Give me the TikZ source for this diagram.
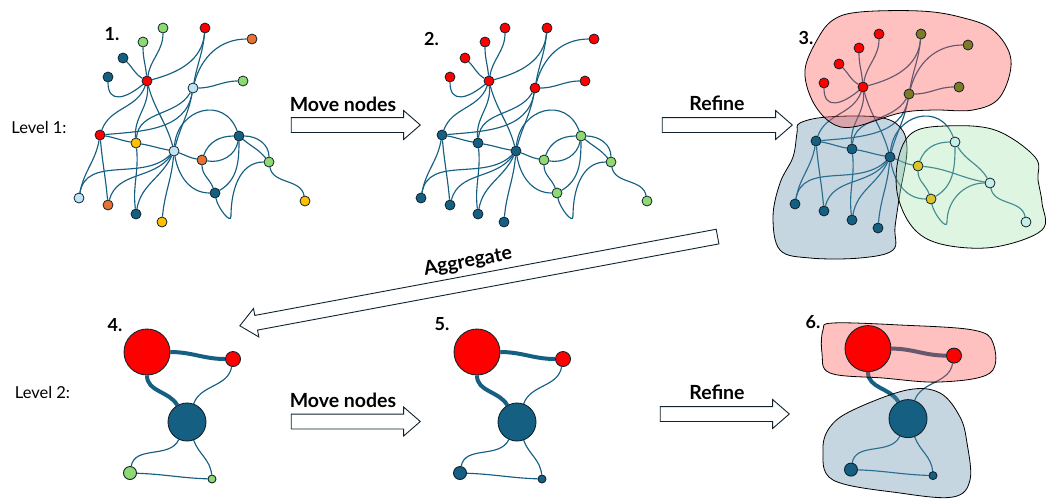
\documentclass[tikz,border=0pt]{standalone}
\usepackage{fontspec}
\setmainfont{Lato}
\usetikzlibrary{shapes.arrows}

\definecolor{netblue}{HTML}{156082}
\definecolor{netred}{HTML}{FF0000}
\definecolor{netgreen}{HTML}{8ED973}
\definecolor{netorange}{HTML}{E97132}
\definecolor{netlight}{HTML}{C0E4F5}
\definecolor{netyellow}{HTML}{FFC000}
\definecolor{netolive}{HTML}{7F7A24}
\definecolor{netgold}{HTML}{DCC42A}
\definecolor{netcyan}{HTML}{C6EFE6}
\definecolor{netrim}{HTML}{10222E}
\definecolor{blobred}{RGB}{255,75,75}
\definecolor{blobblue}{RGB}{89,138,169}
\definecolor{blobgreen}{RGB}{161,226,172}

\pgfdeclarelayer{edges}
\pgfdeclarelayer{blobs}
\pgfsetlayers{edges,blobs,main}

\tikzset{
  vert/.style={circle, draw=netrim, line width=0.8pt, minimum size=10pt, inner sep=0pt},
  hub/.style={circle, draw=netrim, line width=0.9pt, inner sep=0pt},
  link/.style={draw=netblue, line width=1.15pt},
  heavy/.style={draw=netblue, line width=4pt},
  blob/.style={draw=black, line width=0.8pt, fill opacity=0.35},
  blockarrow/.style={single arrow, draw=netrim, fill=white, line width=0.9pt,
    inner sep=0pt, inner ysep=7pt, single arrow head extend=7pt,
    single arrow tip angle=82},
  steplbl/.style={font=\bfseries\fontsize{18}{18}\selectfont},
  actlbl/.style={font=\bfseries\fontsize{19.5}{19.5}\selectfont},
  levellbl/.style={font=\fontsize{16.5}{16.5}\selectfont},
}

% vertex positions of the fine network, shifted by (#2,#3)
\newcommand{\netpos}[3]{%
  \foreach \n/\x/\y in {A/163/28, B/205/28, C/252/39, D/143/42, E/123/58,
      F/108/77, H/147/81, G/243/81, L/193/88, M/100/135, Y/136/143,
      K/174/151, O/202/160, N/239/136, P/269/162, Q/215/193, R/305/201,
      S/79/198, T/108/205, U/136/214, V/162/222}
    \coordinate (#1\n) at ({\x+#2},{-\y-#3});
}

% links shared by all fine networks
\newcommand{\netlinks}[1]{%
  \foreach \a/\b/\o/\i/\l in {A/H/-90/80/1, D/H/-90/95/1, E/H/-45/150/1,
      F/H/-90/-140/1.6, B/H/-95/15/1, B/L/-95/80/1, C/L/180/75/1,
      L/G/0/180/1, H/M/-110/70/1, M/L/5/-100/1, H/Y/-85/95/1,
      L/Y/-120/85/1, H/K/-75/105/1, L/K/-100/75/1, M/Y/-10/170/1,
      Y/K/-10/170/1, M/S/-100/80/1, M/T/-85/95/1, Y/U/-84/97/1,
      K/S/-135/80/1, K/T/-125/75/1, K/U/-115/80/1, K/V/-95/85/1,
      K/O/-20/170/1, K/N/85/110/1.5, O/N/70/180/1, O/Q/-90/110/1,
      N/Q/-90/30/1, K/Q/-80/180/1, P/R/-80/100/1}
    \draw[link] (#1\a) to[out=\o,in=\i,looseness=\l] (#1\b);
  \draw[link] (#1Q) to[out=-80,in=-90] ++(16,-23) to[out=90,in=180] (#1P);
}

% coarse network positions, shifted by (#2,#3)
\newcommand{\coarsepos}[3]{%
  \foreach \n/\x/\y in {R1/147/352, R2/233/359, B1/187/422, B2/130/473, B3/212/479}
    \coordinate (#1\n) at ({\x+#2},{-\y-#3});
}

\newcommand{\coarselinks}[1]{%
  \draw[heavy] (#1R1) to[out=0,in=180] (#1R2);
  \draw[heavy] (#1R1) to[out=-90,in=120] (#1B1);
  \draw[link] (#1R2) to[out=-100,in=70] (#1B1);
  \draw[link] (#1B1) to[out=-115,in=80] (#1B2);
  \draw[link] (#1B1) to[out=-70,in=95] (#1B3);
  \draw[link] (#1B2) to[out=-2,in=178] (#1B3);
}

\begin{document}
\begin{tikzpicture}[x=1pt,y=1pt]
\useasboundingbox (0,0) rectangle (1046,-499);

%% Level 1
\netpos{g1}{0}{0}
\netpos{g2}{342}{0}
\netpos{g3}{716}{6}
\coordinate (g3P) at (990,-183);
\coordinate (g3R) at (1026,-222);

\foreach \n/\c in {A/netgreen, B/netred, C/netorange, D/netgreen, E/netblue,
    F/netblue, H/netred, G/netgreen, L/netlight, M/netred, Y/netyellow,
    K/netlight, O/netorange, N/netblue, P/netgreen, Q/netblue, R/netyellow,
    S/netlight, T/netorange, U/netblue, V/netyellow}
  \node[vert, fill=\c] (g1\n) at (g1\n) {};

\foreach \n/\c in {A/netred, B/netred, C/netred, D/netred, E/netred,
    F/netred, H/netred, G/netred, L/netred, M/netblue, Y/netblue,
    K/netblue, O/netgreen, N/netgreen, P/netgreen, Q/netgreen, R/netgreen,
    S/netblue, T/netblue, U/netblue, V/netblue}
  \node[vert, fill=\c] (g2\n) at (g2\n) {};

\foreach \n/\c in {A/netred, B/netolive, C/netolive, D/netred, E/netred,
    F/netred, H/netred, G/netolive, L/netolive, M/netblue, Y/netblue,
    K/netblue, O/netgold, N/netcyan, P/netcyan, Q/netgold, R/netcyan,
    S/netblue, T/netblue, U/netblue, V/netblue}
  \node[vert, fill=\c] (g3\n) at (g3\n) {};

\begin{pgfonlayer}{edges}
\netlinks{g1}
\netlinks{g2}
\netlinks{g3}
\foreach \g in {g1,g2} {
  \draw[link] (\g O) to[out=-10,in=-100] (\g N);
  \draw[link] (\g N) to[out=0,in=90] (\g P);
  \draw[link] (\g N) to[out=-40,in=130] (\g P);
}
\draw[link] (g3O) to[out=-5,in=170] (g3P);
\draw[link] (g3N) to[out=-60,in=120] (g3P);
\end{pgfonlayer}

% clusters after refining
\begin{pgfonlayer}{blobs}
\filldraw[blob, fill=blobblue] plot[smooth cycle, tension=0.6] coordinates {
  (800,-123) (827,-117) (877,-117) (900,-127) (907,-150) (900,-193)
  (895,-227) (893,-250) (860,-258) (810,-258) (780,-250) (773,-217)
  (780,-183) (793,-157) (797,-133)};
\filldraw[blob, fill=blobgreen] plot[smooth cycle, tension=0.6] coordinates {
  (912,-133) (945,-126) (995,-130) (1035,-157) (1038,-180) (1042,-203)
  (1042,-230) (995,-247) (945,-245) (915,-230) (898,-197) (898,-160)};
\filldraw[blob, fill=blobred] plot[smooth cycle, tension=0.6] coordinates {
  (833,-20) (860,-12) (920,-11) (960,-17) (993,-30) (1011,-60)
  (1000,-97) (973,-110) (933,-110) (900,-113) (853,-127) (830,-122)
  (812,-100) (805,-70) (817,-40)};
\end{pgfonlayer}

%% Level 2
\coarsepos{g4}{0}{0}
\coarsepos{g5}{330}{0}
\coarsepos{g6}{721}{-3.4}

\foreach \g/\c in {g4/netgreen, g5/netblue, g6/netblue} {
  \node[hub, minimum size=46pt, fill=netred] (\g R1) at (\g R1) {};
  \node[hub, minimum size=15pt, fill=netred] (\g R2) at (\g R2) {};
  \node[hub, minimum size=38pt, fill=netblue] (\g B1) at (\g B1) {};
  \node[hub, minimum size=13pt, fill=\c] (\g B2) at (\g B2) {};
  \node[hub, minimum size=8pt, fill=\c] (\g B3) at (\g B3) {};
}

\begin{pgfonlayer}{edges}
\coarselinks{g4}
\coarselinks{g5}
\coarselinks{g6}
\end{pgfonlayer}

\begin{pgfonlayer}{blobs}
\filldraw[blob, fill=blobred] plot[smooth cycle, tension=0.6] coordinates {
  (833,-323) (900,-325) (973,-330) (993,-343) (990,-373) (940,-382)
  (883,-378) (830,-373) (822,-353) (823,-330)};
\filldraw[blob, fill=blobblue] plot[smooth cycle, tension=0.6] coordinates {
  (853,-410) (907,-390) (940,-393) (960,-417) (967,-443) (970,-480)
  (953,-497) (900,-493) (833,-480) (823,-450) (830,-427)};
\end{pgfonlayer}

%% arrows between the steps
\node[blockarrow, minimum height=129pt] (moveA) at (351.5,-125) {};
\node[blockarrow, minimum height=130pt] (refineA) at (723,-125) {};
\node[blockarrow, minimum height=129pt] (moveB) at (351.5,-421.5) {};
\node[blockarrow, minimum height=129pt] (refineB) at (720.5,-414) {};
\node[blockarrow, minimum height=486pt, rotate=190.58] (aggr) at (482.9,-280.4) {};

\node[actlbl] (moveAtxt) at (343,-104) {Move nodes};
\node[actlbl] (refineAtxt) at (717,-103) {Refine};
\node[actlbl] (moveBtxt) at (343,-400) {Move nodes};
\node[actlbl] (refineBtxt) at (717,-392) {Refine};
\node[actlbl, rotate=10.58] (aggrtxt) at (468,-262) {Aggregate};

%% step numbers and level names
\node[steplbl] (s1) at (112,-34) {1.};
\node[steplbl] (s2) at (431.5,-39) {2.};
\node[steplbl] (s3) at (806,-38) {3.};
\node[steplbl] (s4) at (115,-325) {4.};
\node[steplbl] (s5) at (442,-324.5) {5.};
\node[steplbl] (s6) at (813,-322.5) {6.};
\node[levellbl] (lev1) at (39,-127) {Level 1:};
\node[levellbl] (lev2) at (42.5,-392.5) {Level 2:};
\end{tikzpicture}
\end{document}
